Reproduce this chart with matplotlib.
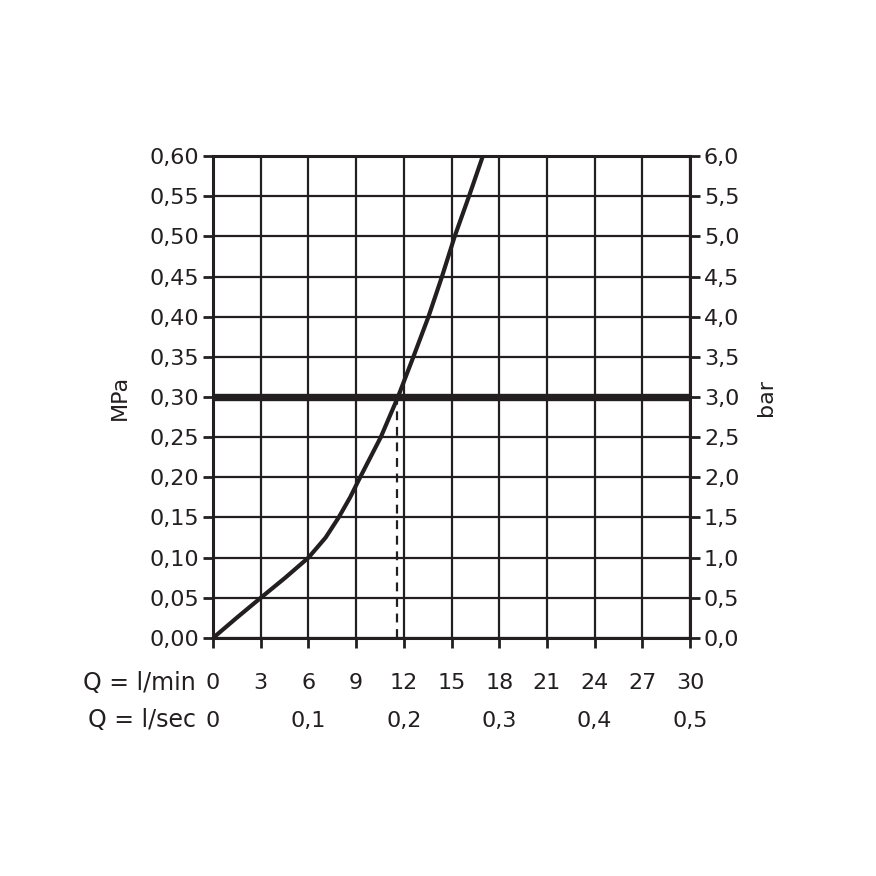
import matplotlib
matplotlib.use("Agg")
import matplotlib.pyplot as plt
from matplotlib.ticker import FuncFormatter

# data
flow_lmin = [0, 1.48, 3, 4.54, 6, 7.08, 7.9, 8.62, 9.25, 10.55, 11.63, 12.6, 13.55,
             14.4, 15.2, 16.1, 16.97]
pressure_mpa = [0, 0.025, 0.05, 0.075, 0.10, 0.125, 0.15, 0.175, 0.20, 0.25, 0.30,
                0.35, 0.40, 0.45, 0.50, 0.55, 0.60]
operating_mpa = 0.30
operating_flow = 11.55
lmin_ticks = [0, 3, 6, 9, 12, 15, 18, 21, 24, 27, 30]
lsec_ticks = [0, 0.1, 0.2, 0.3, 0.4, 0.5]
mpa_ticks = [0, 0.05, 0.10, 0.15, 0.20, 0.25, 0.30, 0.35, 0.40, 0.45, 0.50, 0.55, 0.60]

plt.rcParams['font.family'] = ['DejaVu Sans']
FS = 16
INK = '#231f20'

fig = plt.figure(figsize=(8.76, 8.76), dpi=100)
ax = fig.add_axes([0.2432, 0.2717, 0.5445, 0.5502])

ax.set_xlim(0, 30)
ax.set_ylim(0, 0.60)
ax.set_xticks(lmin_ticks)
ax.set_yticks(mpa_ticks)
ax.grid(True, color=INK, lw=1.6)
ax.set_axisbelow(True)

ax.axhline(operating_mpa, color=INK, lw=5.3, zorder=3)
ax.plot([operating_flow, operating_flow], [0, operating_mpa], color=INK, lw=1.6,
        ls=(0, (4, 3)), zorder=3)
ax.plot(flow_lmin, pressure_mpa, color=INK, lw=3.0, zorder=4, solid_capstyle='butt',
        solid_joinstyle='round')

for s in ax.spines.values():
    s.set_color(INK)
    s.set_linewidth(2.2)

comma = lambda fmt: FuncFormatter(lambda v, p: (fmt % v).replace('.', ','))
ax.yaxis.set_major_formatter(comma('%.2f'))
ax.xaxis.set_major_formatter(FuncFormatter(lambda v, p: '%d' % v))
ax.tick_params(axis='both', direction='out', length=7, width=2, color=INK,
               labelsize=FS, labelcolor=INK)
ax.tick_params(axis='x', pad=18)
ax.tick_params(axis='y', pad=3)
ax.set_ylabel('MPa', fontsize=FS, color=INK, labelpad=14)

# right axis in bar
ax_r = ax.secondary_yaxis('right', functions=(lambda y: y * 10, lambda y: y / 10))
ax_r.set_yticks([v * 10 for v in mpa_ticks])
ax_r.yaxis.set_major_formatter(comma('%.1f'))
ax_r.tick_params(direction='out', length=7, width=2, color=INK, labelsize=FS,
                 labelcolor=INK, pad=3)
ax_r.spines['right'].set_visible(False)
ax_r.set_ylabel('bar', fontsize=FS, color=INK, rotation=90, labelpad=12)

# second flow row in l/sec
ax_s = ax.secondary_xaxis(-0.145, functions=(lambda x: x / 60, lambda x: x * 60))
ax_s.set_xticks(lsec_ticks)
ax_s.xaxis.set_major_formatter(FuncFormatter(lambda v, p: '0' if v == 0 else ('%.1f' % v).replace('.', ',')))
ax_s.tick_params(length=0, labelsize=FS, labelcolor=INK, pad=2)
ax_s.spines['bottom'].set_visible(False)

ax.text(-0.036, -0.094, 'Q = l/min', transform=ax.transAxes, ha='right', va='center',
        fontsize=FS + 1, color=INK)
ax.text(-0.036, -0.171, 'Q = l/sec', transform=ax.transAxes, ha='right', va='center',
        fontsize=FS + 1, color=INK)

fig.savefig('out.png', dpi=100, facecolor='white')
